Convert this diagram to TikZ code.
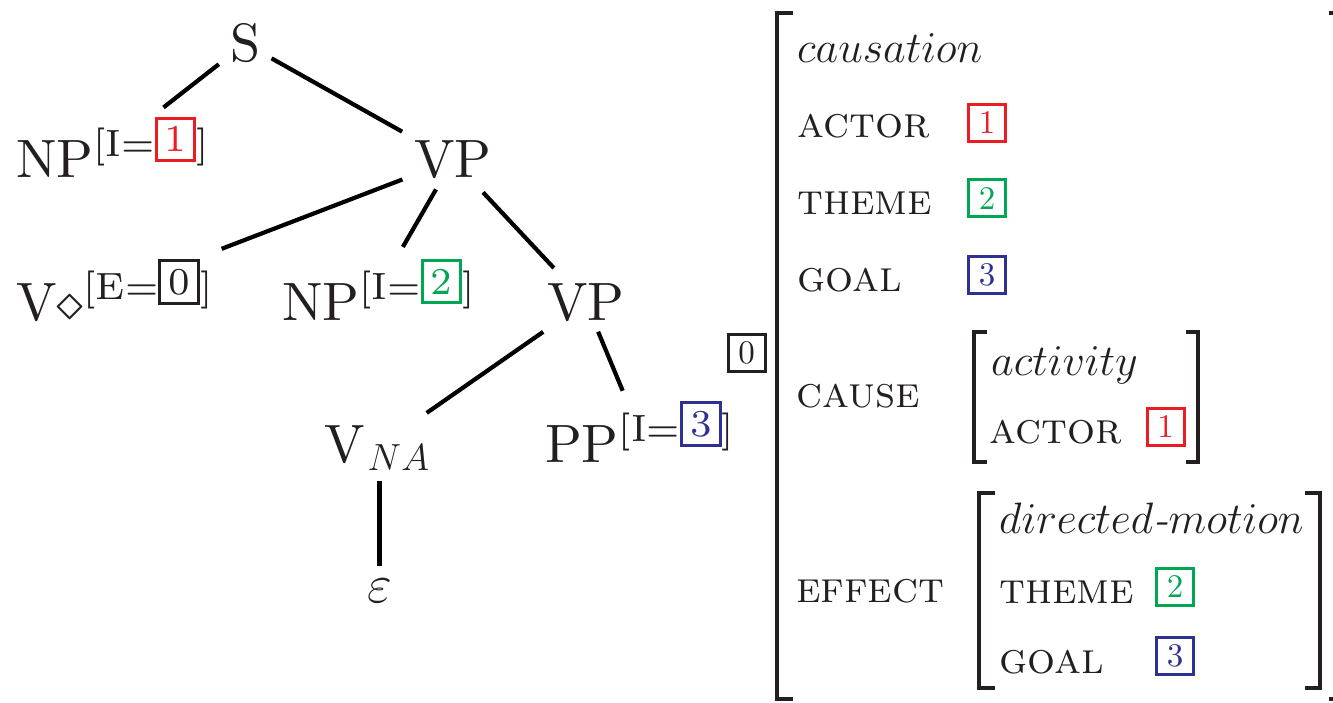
\RequirePackage{fix-cm}
\documentclass[tikz,border=0pt]{standalone}
\usepackage{amsmath}
\usepackage{xcolor}
\definecolor{ink}{HTML}{231F20}
\definecolor{bred}{HTML}{ED1C24}
\definecolor{bgreen}{HTML}{00A651}
\definecolor{bblue}{HTML}{2E3192}
\font\treefont="[lmroman10-regular.otf]" at 54pt
\font\tsupfont="[lmroman7-regular.otf]" at 38pt
\font\digfont="[lmroman10-regular.otf]" at 33pt
\newcommand{\tsup}[1]{\raisebox{21pt}{\tsupfont #1}}
\newcommand{\tagbox}[2]{\raisebox{5pt}{\setlength{\fboxrule}{3pt}\setlength{\fboxsep}{7pt}\fcolorbox{#1}{white}{\textcolor{#1}{#2}}}}
\tikzset{
  lab/.style={inner sep=0pt, anchor=base west, text=ink, font=\fontsize{54}{60}\selectfont\treefont},
  avm/.style={inner sep=0pt, anchor=base west, text=ink, font=\fontsize{44}{48}\selectfont},
  edge/.style={line width=4.2pt, black},
  brk/.style={line width=3.5pt, ink},
  vbox/.style={draw=#1, text=#1, line width=3pt, minimum size=37pt, inner sep=0pt, font=\digfont}
}
\begin{document}
\begin{tikzpicture}[x=1pt,y=-1pt]
\useasboundingbox (0,0) rectangle (1333,703);
% tree
\node[lab] (S) at (230,62) {S};
\node[lab] (NP1) at (16,178) {NP\tsup{[I=\tagbox{bred}{1}]}};
\node[lab] (VP1) at (414,178) {VP};
\node[lab] (V0) at (16,320) {V$\diamond$\tsup{[E=\tagbox{ink}{0}]}};
\node[lab] (NP2) at (282,320) {NP\tsup{[I=\tagbox{bgreen}{2}]}};
\node[lab] (VP2) at (547,320) {VP};
\node[lab] (VNA) at (324,462) {V$_{\kern3pt NA}$};
\node[lab] (PP3) at (545,462) {PP\tsup{[I=\tagbox{bblue}{3}]}};
\node[lab] (eps) at (367,602) {$\varepsilon$};
\draw[edge, shorten <=33.5pt, shorten >=64.8pt] (S.center) -- (NP1.center);
\draw[edge, shorten <=30.2pt, shorten >=58.2pt] (S.center) -- (VP1.center);
\draw[edge, shorten <=54pt, shorten >=115pt] (VP1.center) -- (V0.center);
\draw[edge, shorten <=33.8pt, shorten >=49pt] (VP1.center) -- (NP2.center);
\draw[edge, shorten <=44.2pt, shorten >=46.8pt] (VP1.center) -- (VP2.center);
\draw[edge, shorten <=52pt, shorten >=60.7pt] (VP2.center) -- (VNA.center);
\draw[edge, shorten <=32pt, shorten >=44pt] (VP2.center) -- (PP3.center);
\draw[edge, shorten <=33pt, shorten >=24.5pt] (eps.center |- VNA.center) -- (eps.center);
% AVM
\node[vbox=ink] (tag0) at (746.5,353) {0};
\draw[brk, line width=4pt] (793,13) -- (777,13) -- (777,699) -- (793,699);
\draw[brk, line width=4pt] (1329,13) -- (1345,13) -- (1345,699) -- (1329,699);
\node[avm] (caus) at (797,63) {$causation$};
\node[avm] (actor) at (797,138) {\textsc{actor}};
\node[avm] (theme) at (797,215) {\textsc{theme}};
\node[avm] (goal) at (797,292) {\textsc{goal}};
\node[vbox=bred] (b1) at (987,123) {1};
\node[vbox=bgreen] (b2) at (987,198.5) {2};
\node[vbox=bblue] (b3) at (987,275) {3};
\node[avm] (cause) at (796,407) {\textsc{cause}};
\node[avm] (effect) at (796,602) {\textsc{effect}};
% cause sub-AVM
\draw[brk] (987,332) -- (974,332) -- (974,462) -- (987,462);
\draw[brk] (1186,332) -- (1198,332) -- (1198,462) -- (1186,462);
\node[avm] (act) at (991,375) {$activity$};
\node[avm] (actor2) at (989,443) {\textsc{actor}};
\node[vbox=bred] (b1b) at (1165.5,427) {1};
% effect sub-AVM
\draw[brk] (995,493) -- (979,493) -- (979,688) -- (995,688);
\draw[brk] (1305,493) -- (1320,493) -- (1320,688) -- (1305,688);
\node[avm] (dm) at (999,533) {$directed$\textit{-}$motion$};
\node[avm] (theme2) at (999,603) {\textsc{theme}};
\node[avm] (goal2) at (999,673) {\textsc{goal}};
\node[vbox=bgreen] (b2b) at (1175,587) {2};
\node[vbox=bblue] (b3b) at (1175,655.5) {3};
\end{tikzpicture}
\end{document}
